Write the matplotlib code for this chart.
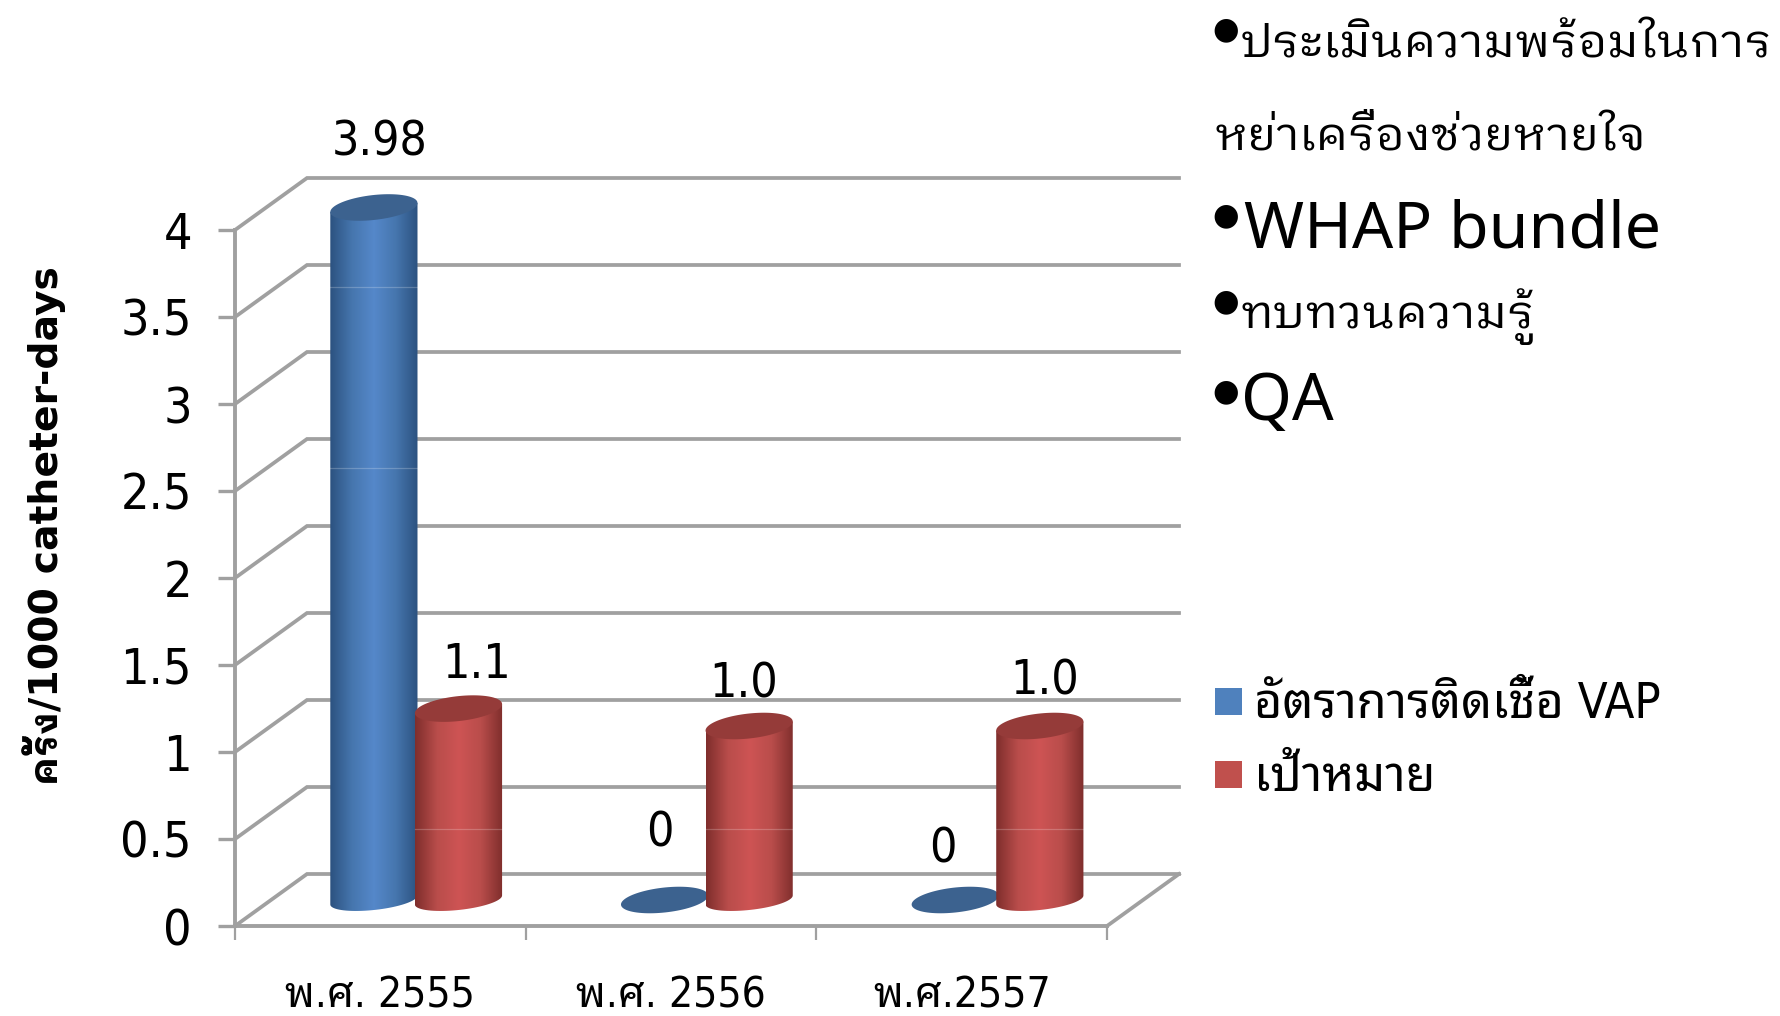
import numpy as np
import matplotlib
matplotlib.use('Agg')
import matplotlib.pyplot as plt
from matplotlib.colors import LinearSegmentedColormap
from matplotlib.patches import Polygon, Rectangle

years = ['พ.ศ. 2555', 'พ.ศ. 2556', 'พ.ศ.2557']
vap_rate = [3.98, 0, 0]
target = [1.1, 1.0, 1.0]
vap_labels = ['3.98', '0', '0']
target_labels = ['1.1', '1.0', '1.0']
y_ticks = [0, 0.5, 1, 1.5, 2, 2.5, 3, 3.5, 4]
y_tick_labels = ['0', '0.5', '1', '1.5', '2', '2.5', '3', '3.5', '4']
series_names = ['อัตราการติดเชื้อ VAP', 'เป้าหมาย']
y_title = 'ครั้ง/1000 catheter-days'
notes = ['ประเมินความพร้อมในการ', 'หย่าเครื่องช่วยหายใจ', 'WHAP bundle', 'ทบทวนความรู้', 'QA']

W, H = 1780, 1016
fig = plt.figure(figsize=(W/100, H/100), dpi=100, facecolor='white')
L, R, T, B = 235, 1107, 230, 926
ax = fig.add_axes([L/W, 1-B/H, (R-L)/W, (B-T)/H])
UX, UY = (R-L)/3, (B-T)/4
DX, DY = 72/UX, 52/UY
GREY = '#A0A0A0'
NARROW = dict(family=['DejaVu Sans', 'Noto Sans Thai Looped'], stretch='condensed')

def px(x, y, s, **kw):
    return fig.text(x/W, 1-y/H, s, color='black', **kw)

# back wall, side wall, floor
for v in y_ticks:
    ax.plot([0, DX, 3+DX], [v, v+DY, v+DY], color=GREY, lw=2.7, clip_on=False, zorder=1,
            solid_joinstyle='miter')
ax.plot([3, 3+DX], [0, DY], color=GREY, lw=2.7, clip_on=False, zorder=1)

BLUE = LinearSegmentedColormap.from_list('b', ['#2C5280', '#4676AE', '#5588CA', '#4676AE', '#2C5280'])
RED = LinearSegmentedColormap.from_list('r', ['#7F2E2C', '#B94D4B', '#CE5454', '#B94D4B', '#7F2E2C'])
BW = 0.30
A, Bb, K = BW/2, 12.5/UY, 4.5/UY
t = np.linspace(0, 2*np.pi, 90)

def cylinder(xc, v, cmap, cap, z, seams=()):
    cx, base, top = xc+0.5*DX, 0.5*DY, v+0.5*DY
    lower = np.linspace(np.pi, 2*np.pi, 40)
    if v > 0:
        outline = np.column_stack([cx+A*np.cos(lower), base+0.8*Bb*np.sin(lower)+K*np.cos(lower)])
        outline = np.vstack([outline, [[cx+A, top+K], [cx-A, top-K]]])
        poly = Polygon(outline, closed=True, transform=ax.transData, fill=False, edgecolor='none')
        ax.add_patch(poly)
        im = ax.imshow(np.linspace(0, 1, 128)[None, :], cmap=cmap, aspect='auto',
                       extent=[cx-A, cx+A, base-2*Bb, top+2*Bb], zorder=z, interpolation='bilinear')
        im.set_clip_path(poly)
        im.set_clip_box(fig.bbox)
        for s in seams:
            ax.plot([cx-A, cx+A], [s, s], color='white', alpha=0.22, lw=0.9, clip_on=False, zorder=z+0.1)
    ax.add_patch(Polygon(np.column_stack([cx+A*np.cos(t), top+Bb*np.sin(t)+K*np.cos(t)]),
                         closed=True, facecolor=cap, edgecolor='none', zorder=z+0.2, clip_on=False))

positions = np.arange(len(years)) + 0.5
for i, (p, v) in enumerate(zip(positions, vap_rate)):
    cylinder(p-0.146, v, BLUE, '#3C628F', 3+i, seams=(3.67, 2.635) if v else ())
for i, (p, v) in enumerate(zip(positions, target)):
    cylinder(p+0.145, v, RED, '#953B39', 6+i, seams=(0.56,))

ax.set_xlim(0, 3)
ax.set_ylim(0, 4)
ax.patch.set_alpha(0)
for s in ('top', 'right'):
    ax.spines[s].set_visible(False)
for s in ('left', 'bottom'):
    ax.spines[s].set_color(GREY)
    ax.spines[s].set_linewidth(2.8)
ax.set_yticks(y_ticks, y_tick_labels, fontsize=36, **NARROW)
ax.tick_params(axis='y', color=GREY, width=2.4, length=12, pad=19, labelcolor='black')
ax.set_xticks([0, 1, 2, 3], ['']*4)
ax.tick_params(axis='x', which='major', color=GREY, width=1.6, length=10)
ax.set_xticks(positions, years, minor=True, fontsize=30.5, **NARROW)
ax.tick_params(axis='x', which='minor', length=0, pad=35, labelcolor='black')

# value labels
for (x, y), s in zip([(380, 142), (660, 833), (943, 849)], vap_labels):
    px(x, y, s, fontsize=34.5, ha='center', va='center', **NARROW)
for (x, y), s in zip([(477, 664), (744, 684), (1045, 681)], target_labels):
    px(x, y, s, fontsize=34.5, ha='center', va='center', **NARROW)

# axis title
px(44, 526, y_title, fontsize=28.4, fontweight='bold', rotation=90, ha='center', va='center',
   family=['DejaVu Sans', 'IBM Plex Sans Thai Looped'])

# legend
for y, name, c in zip([702, 775], series_names, ['#4F81BD', '#C0504D']):
    fig.add_artist(Rectangle((1215/W, 1-(y+13)/H), 27/W, 27/H, transform=fig.transFigure,
                             facecolor=c, edgecolor='none'))
    px(1254, y+2, name, fontsize=35, va='center', ha='left', **NARROW)

# note list
for x, y in [(1226, 30), (1226, 216), (1226, 302), (1226, 392)]:
    px(x, y, '●', fontsize=22, ha='center', va='center', family=['DejaVu Sans'])
thai_kw = dict(va='baseline', ha='left', family=['IBM Plex Sans Thai Looped', 'Noto Sans Thai Looped'])
px(1241, 57, notes[0], fontsize=33.9, **thai_kw)
px(1214, 150, notes[1], fontsize=33.7, **thai_kw)
px(1244, 248, notes[2], fontsize=46.5, va='baseline', ha='left', family=['Noto Sans'])
px(1241, 328, notes[3], fontsize=34, **thai_kw)
px(1241, 420, notes[4], fontsize=47, va='baseline', ha='left', family=['Noto Sans'])

fig.savefig('out.png', dpi=100, facecolor='white')
